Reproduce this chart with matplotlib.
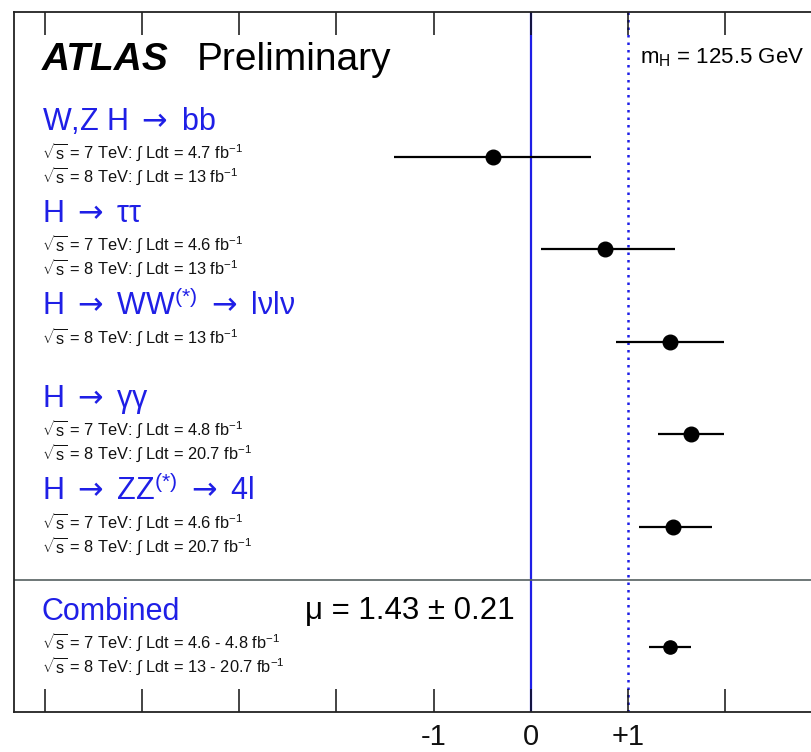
import matplotlib
matplotlib.use("Agg")
import matplotlib.pyplot as plt

plt.rcParams['font.family'] = ['Liberation Sans', 'DejaVu Sans']
plt.rcParams['mathtext.fontset'] = 'custom'
plt.rcParams['mathtext.rm'] = 'Liberation Sans'
plt.rcParams['mathtext.it'] = 'Liberation Sans:italic'
plt.rcParams['mathtext.bf'] = 'Liberation Sans:bold'
plt.rcParams['mathtext.sf'] = 'DejaVu Sans'
plt.rcParams['mathtext.default'] = 'regular'

ARROW = '$\\mathsf{\\rightarrow}$'

# ---- data ----
channels = ['W,Z H ' + ARROW + ' bb', 'H ' + ARROW + ' ττ',
            'H ' + ARROW + ' WW$^{(*)}$ ' + ARROW + ' lνlν',
            'H ' + ARROW + ' γγ', 'H ' + ARROW + ' ZZ$^{(*)}$ ' + ARROW + ' 4l',
            'Combined']
mu = [-0.39, 0.76, 1.43, 1.65, 1.46, 1.43]
err_lo = [1.02, 0.65, 0.55, 0.34, 0.35, 0.21]
err_hi = [1.01, 0.72, 0.56, 0.34, 0.41, 0.22]
lumi_lines = [
    ['$\\sqrt{s}$ = 7 TeV: ∫ Ldt = 4.7 fb$^{-1}$', '$\\sqrt{s}$ = 8 TeV: ∫ Ldt = 13 fb$^{-1}$'],
    ['$\\sqrt{s}$ = 7 TeV: ∫ Ldt = 4.6 fb$^{-1}$', '$\\sqrt{s}$ = 8 TeV: ∫ Ldt = 13 fb$^{-1}$'],
    ['$\\sqrt{s}$ = 8 TeV: ∫ Ldt = 13 fb$^{-1}$'],
    ['$\\sqrt{s}$ = 7 TeV: ∫ Ldt = 4.8 fb$^{-1}$', '$\\sqrt{s}$ = 8 TeV: ∫ Ldt = 20.7 fb$^{-1}$'],
    ['$\\sqrt{s}$ = 7 TeV: ∫ Ldt = 4.6 fb$^{-1}$', '$\\sqrt{s}$ = 8 TeV: ∫ Ldt = 20.7 fb$^{-1}$'],
    ['$\\sqrt{s}$ = 7 TeV: ∫ Ldt = 4.6 - 4.8 fb$^{-1}$', '$\\sqrt{s}$ = 8 TeV: ∫ Ldt = 13 - 20.7 fb$^{-1}$'],
]
tick_values = [-5, -4, -3, -2, -1, 0, 1, 2, 3]
tick_labels = ['', '', '', '', '-1', '0', '+1', '', '']
combined_text = 'μ = 1.43 ± 0.21'
mass_text = 'm$_{\\rm H}$ = 125.5 GeV'

# ---- layout ----
ypos = [5, 4, 3, 2, 1, -0.30]
BLUE = '#1f1fe6'
W, H = 812, 752
fig = plt.figure(figsize=(W / 100, H / 100), dpi=100)
x0, x1, ytop, ybot = 14, 822.3, 12, 712
ax = fig.add_axes([x0 / W, (H - ybot) / H, (x1 - x0) / W, (ybot - ytop) / H])
ax.set_xlim(-5.316, 3.0)
ax.set_ylim(-1.0, 6.564)

for s in ax.spines.values():
    s.set_linewidth(1.3)
    s.set_color('#222222')

ax.set_xticks(tick_values)
ax.set_xticklabels(tick_labels, fontsize=21)
ax.tick_params(axis='x', direction='in', length=16.5, width=1.1, top=True,
               pad=8, colors='#111111')
ax.set_yticks([])

# reference lines
ax.axvline(0, color=BLUE, lw=1.6, zorder=1)
ax.axvline(1, color=BLUE, lw=1.8, ls=(0, (1, 2)), zorder=1)
ax.axhline(0.424, color='#556060', lw=1.2, zorder=1)

# points with errors
for i in range(len(mu)):
    ms = 9.5 if i == len(mu) - 1 else 10.5
    ax.errorbar([mu[i]], [ypos[i]], xerr=[[err_lo[i]], [err_hi[i]]], fmt='o',
                color='black', ms=ms, elinewidth=1.6, capsize=0, zorder=3)

# texts
px = 0.72
xl = (42 - x0) / (x1 - x0)
for i, name in enumerate(channels):
    ax.annotate(name, xy=(xl, ypos[i]), xycoords=('axes fraction', 'data'),
                xytext=(0, 27 * px), textcoords='offset points',
                fontsize=22, color=BLUE, va='baseline', ha='left')
    for j, line in enumerate(lumi_lines[i]):
        ax.annotate(line, xy=(xl, ypos[i]), xycoords=('axes fraction', 'data'),
                    xytext=(0, (-2 - 24 * j) * px), textcoords='offset points',
                    fontsize=11.8, color='#111111', va='baseline', ha='left')

fig.text(42 / W, 1 - 70 / H, 'ATLAS', fontsize=28, fontweight='bold',
         fontstyle='italic', va='baseline', ha='left')
fig.text(197 / W, 1 - 70 / H, 'Preliminary', fontsize=28, va='baseline', ha='left')
fig.text(640 / W, 1 - 63 / H, mass_text, fontsize=16, va='baseline', ha='left')
fig.text(305 / W, 1 - 619 / H, combined_text, fontsize=22.5, va='baseline', ha='left')

fig.savefig('out.png', dpi=100)
